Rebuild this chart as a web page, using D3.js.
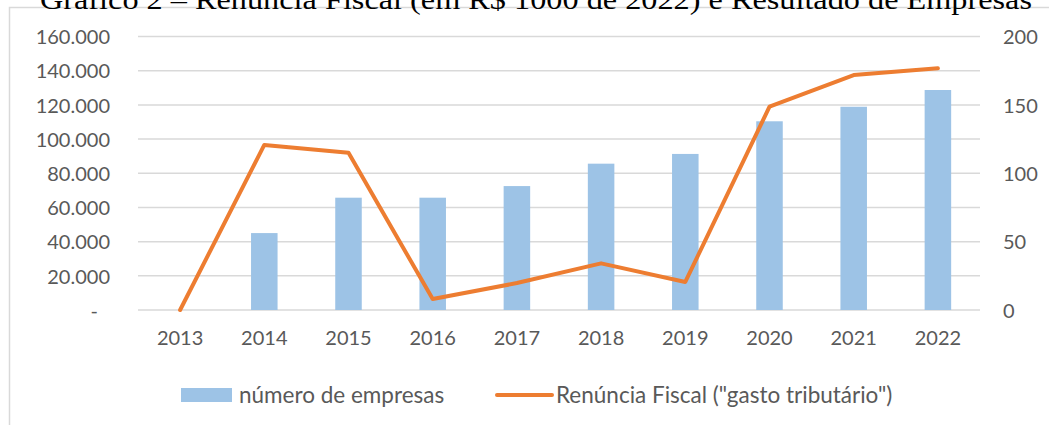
<!DOCTYPE html>
<html>
<head>
<meta charset="utf-8">
<script src="https://cdn.jsdelivr.net/npm/d3@7"></script>
<style>
  html, body { margin: 0; padding: 0; background: #fff; }
  svg { display: block; }
</style>
</head>
<body>
<svg id="chart" width="1049" height="425"></svg>
<script>
const titleText = "Gráfico 2 – Renúncia Fiscal (em R$ 1000 de 2022) e Resultado de Empresas";
const categories = ["2013","2014","2015","2016","2017","2018","2019","2020","2021","2022"];
const empresas = [0, 45000, 65700, 65700, 72500, 85600, 91300, 110400, 118900, 128700];
const renuncia = [0, 120.7, 115, 8, 19.7, 34.1, 20.5, 148.7, 171.8, 176.7];
const leftTicks = [0, 20000, 40000, 60000, 80000, 100000, 120000, 140000, 160000];
const rightTicks = [0, 50, 100, 150, 200];
const legendLabels = ["número de empresas", "Renúncia Fiscal (\"gasto tributário\")"];

const svg = d3.select("#chart");
const W = 1049, H = 425;
const m = {left: 138, right: 1049 - 980, top: 36.5, bottom: 425 - 310};
const font = "Lato, 'Open Sans', sans-serif";
const textColor = "#595959";

// outer frame
svg.append("rect").attr("x", 9.5).attr("y", 7.5).attr("width", 1100).attr("height", 500)
  .attr("fill", "none").attr("stroke", "#D9D9D9").attr("stroke-width", 1.5);

// title (clipped at top, as in the reference)
svg.append("text").attr("x", 40).attr("y", 8.5)
  .attr("font-family", "'Liberation Serif', 'Times New Roman', serif")
  .attr("font-size", 28).attr("fill", "#000")
  .attr("textLength", 992).attr("lengthAdjust", "spacingAndGlyphs")
  .text(titleText);

const x = d3.scaleBand().domain(categories).range([m.left, W - m.right]).paddingInner(0).paddingOuter(0);
const yL = d3.scaleLinear().domain([0, 160000]).range([H - m.bottom, m.top]);
const yR = d3.scaleLinear().domain([0, 200]).range([H - m.bottom, m.top]);

const fmt = v => v === 0 ? "-" : d3.format(",")(v).replace(/,/g, ".");

// gridlines
svg.append("g").selectAll("line").data(leftTicks).join("line")
  .attr("x1", m.left).attr("x2", W - m.right)
  .attr("y1", d => yL(d)).attr("y2", d => yL(d))
  .attr("stroke", "#D9D9D9").attr("stroke-width", 1.5);

// left axis
const gL = svg.append("g").attr("transform", `translate(${m.left},0)`)
  .call(d3.axisLeft(yL).tickValues(leftTicks).tickFormat(fmt).tickSize(0).tickPadding(28));
gL.select(".domain").remove();
gL.selectAll("text").attr("font-family", font).attr("font-size", 20).attr("fill", textColor)
  .attr("dy", "0.36em").attr("dx", d => d === 0 ? -12 : 0);

// right axis
const gR = svg.append("g").attr("transform", `translate(${W - m.right},0)`)
  .call(d3.axisRight(yR).tickValues(rightTicks).tickSize(0).tickPadding(23));
gR.select(".domain").remove();
gR.selectAll("text").attr("font-family", font).attr("font-size", 20).attr("fill", textColor).attr("dy", "0.36em");

// x axis
const gX = svg.append("g").attr("transform", `translate(0,${H - m.bottom})`)
  .call(d3.axisBottom(x).tickSize(0).tickPadding(20));
gX.select(".domain").remove();
gX.selectAll("text").attr("font-family", font).attr("font-size", 20).attr("fill", textColor).attr("dy", "0.75em");

// bars
const bw = x.bandwidth() * 0.315;
svg.append("g").selectAll("rect").data(categories.map((c, i) => ({c, v: empresas[i]})).filter(d => d.v > 0)).join("rect")
  .attr("x", d => x(d.c) + x.bandwidth() / 2 - bw / 2)
  .attr("width", bw)
  .attr("y", d => yL(d.v))
  .attr("height", d => yL(0) - yL(d.v))
  .attr("fill", "#9DC3E6");

// line
const line = d3.line().x((d, i) => x(categories[i]) + x.bandwidth() / 2).y(d => yR(d));
svg.append("path").datum(renuncia).attr("d", line)
  .attr("fill", "none").attr("stroke", "#ED7D31").attr("stroke-width", 4)
  .attr("stroke-linejoin", "round").attr("stroke-linecap", "round");

// legend
const lg = svg.append("g");
lg.append("rect").attr("x", 181).attr("y", 388).attr("width", 51).attr("height", 14).attr("fill", "#9DC3E6");
lg.append("text").attr("x", 239).attr("y", 403).attr("font-family", font).attr("font-size", 22.5)
  .attr("fill", textColor).text(legendLabels[0]);
lg.append("line").attr("x1", 497).attr("x2", 552).attr("y1", 395).attr("y2", 395)
  .attr("stroke", "#ED7D31").attr("stroke-width", 4).attr("stroke-linecap", "round");
lg.append("text").attr("x", 556).attr("y", 403).attr("font-family", font).attr("font-size", 22.5)
  .attr("fill", textColor).text(legendLabels[1]);
</script>
</body>
</html>
